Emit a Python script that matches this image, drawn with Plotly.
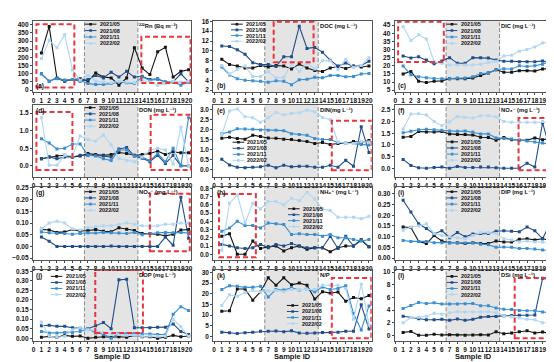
import plotly.graph_objects as go

sample_ids = list(range(1, 21))
series_names = ["2021/05", "2021/08", "2021/11", "2022/02"]
series_colors = ["#151515", "#1f4e8a", "#3a8fd2", "#b0d6f1"]
series_symbols = ["square", "square", "square", "square"]

# ---------------- data ----------------
rn_2105 = [228, 390, 72, 55, 65, 70, 55, 105, 80, 75, 30, 75, 260, 135, 95, 235, 262, 80, 115, 125]
rn_2108 = [100, 55, 75, 60, 65, 55, 65, 90, 75, 110, 80, 115, 80, 85, 65, 70, 50, 50, 100, 50]
rn_2111 = [100, 55, 70, 60, 65, 60, 40, 35, 35, 40, 50, 45, 40, 80, 60, 65, 50, 50, 30, 50]
rn_2202 = [193, 305, 260, 340, 125, 60, 90, 55, 50, 45, 55, 50, 45, 60, 50, 30, 40, 55, 50, 55]

doc_2105 = [8.3, 7.2, 6.9, 6.5, 6.5, 7.0, 6.7, 7.0, 6.9, 6.3, 7.3, 6.5, 6.0, 5.8, 6.5, 6.8, 6.4, 6.9, 6.7, 6.9]
doc_2108 = [11.0, 10.9, 10.2, 9.3, 7.6, 7.2, 7.2, 6.8, 8.8, 8.8, 15.0, 10.5, 10.7, 9.7, 8.1, 6.9, 7.5, 6.8, 7.0, 7.9]
doc_2111 = [6.7, 5.1, 4.3, 4.0, 3.9, 3.8, 3.6, 3.9, 3.8, 3.1, 4.1, 4.2, 4.6, 4.5, 5.0, 5.0, 4.7, 4.8, 5.3, 5.4]
doc_2202 = [7.0, 5.3, 6.2, 6.9, 4.8, 4.8, 5.8, 4.5, 4.6, 7.4, 5.8, 7.5, 6.3, 8.0, 8.0, 6.2, 8.3, 6.6, 7.0, 8.6]

dic_2105 = [15.0, 16.5, 10.5, 9.7, 10.5, 10.7, 12.0, 12.0, 12.0, 12.5, 14.0, 15.5, 17.5, 16.0, 16.0, 17.0, 17.0, 16.7, 18.0, 18.2]
dic_2108 = [26.0, 24.8, 25.5, 23.5, 21.2, 23.0, 25.0, 21.5, 21.5, 25.0, 25.0, 24.7, 23.5, 22.8, 22.7, 22.5, 22.5, 22.5, 23.0, 21.8]
dic_2111 = [19.8, 14.5, 13.2, 12.6, 12.2, 12.0, 12.0, 12.5, 12.5, 13.2, 15.2, 15.5, 17.5, 18.2, 18.0, 20.0, 19.5, 20.0, 21.0, 22.8]
dic_2202 = [44.0, 35.5, 39.0, 36.5, 22.5, 21.5, 20.5, 20.5, 20.5, 20.5, 21.0, 22.0, 22.7, 26.0, 26.5, 29.0, 30.0, 31.5, 34.0, 34.5]

don_2105 = [0.20, 0.25, 0.28, 0.30, 0.25, 0.28, 0.35, 0.32, 0.30, 0.32, 0.38, 0.35, 0.30, 0.32, 0.35, 0.42, 0.32, 0.40, 0.37, 0.37]
don_2108 = [0.20, 0.25, 0.20, 0.25, 0.25, 0.30, 0.30, 0.30, 0.28, 0.25, 0.48, 0.52, 0.28, 0.22, 0.12, 0.30, 0.07, 0.30, 0.00, 0.00]
don_2111 = [0.77, 0.65, 0.48, 0.50, 0.62, 0.62, 0.30, 0.28, 0.20, 0.15, 0.45, 0.45, 0.28, 0.25, 0.15, 0.35, 0.12, 0.50, 0.00, 1.37]
don_2202 = [1.37, 0.02, 0.02, 0.30, 0.28, 0.85, 0.75, 0.70, 0.88, 0.60, 0.20, 0.15, 0.12, 0.25, 0.45, 0.50, 0.45, 0.05, 1.10, 0.00]

din_2105 = [1.57, 1.62, 1.55, 1.52, 1.72, 1.65, 1.58, 1.57, 1.52, 1.50, 1.45, 1.40, 1.30, 1.35, 1.25, 1.30, 1.30, 1.40, 1.35, 1.45]
din_2108 = [0.50, 0.22, 0.10, 0.08, 0.10, 0.12, 0.20, 0.08, 0.20, 0.12, 0.15, 0.15, 0.10, 0.10, 0.20, 0.10, 0.45, 0.15, 2.15, 0.85]
din_2111 = [1.80, 1.88, 2.05, 2.03, 2.02, 1.98, 1.97, 1.97, 1.95, 1.80, 1.75, 1.72, 1.55, 1.50, 1.50, 1.35, 1.33, 1.30, 1.25, 1.22]
din_2202 = [1.75, 2.95, 3.05, 2.65, 2.60, 2.38, 2.60, 2.88, 2.75, 2.82, 2.85, 3.00, 2.90, 2.62, 2.50, 1.38, 1.30, 1.30, 1.40, 1.38]

no3_2105 = [1.33, 1.36, 1.57, 1.55, 1.55, 1.57, 1.47, 1.45, 1.45, 1.42, 1.33, 1.32, 1.20, 1.32, 1.22, 1.20, 1.20, 1.30, 1.22, 1.28]
no3_2108 = [0.38, 0.12, 0.02, 0.00, 0.03, 0.05, 0.00, 0.08, 0.03, 0.03, 0.05, 0.05, 0.02, 0.00, 0.00, 0.00, 0.22, 0.05, 1.95, 0.77]
no3_2111 = [1.52, 1.58, 1.65, 1.67, 1.65, 1.63, 1.60, 1.58, 1.60, 1.55, 1.47, 1.47, 1.30, 1.27, 1.25, 1.20, 1.17, 1.12, 1.08, 1.03]
no3_2202 = [1.68, 2.32, 2.33, 2.28, 2.00, 1.82, 1.98, 2.22, 2.18, 2.15, 2.25, 2.25, 2.20, 2.00, 1.97, 1.97, 1.97, 1.97, 2.00, 1.97]

no2_2105 = [0.073, 0.070, 0.060, 0.062, 0.072, 0.065, 0.068, 0.072, 0.065, 0.063, 0.080, 0.073, 0.068, 0.055, 0.055, 0.052, 0.045, 0.052, 0.070, 0.072]
no2_2108 = [0.040, 0.022, 0.000, 0.000, 0.000, 0.000, 0.000, 0.000, 0.000, 0.002, 0.000, 0.000, 0.000, 0.000, 0.000, 0.000, 0.040, 0.005, 0.210, 0.035]
no2_2111 = [0.062, 0.058, 0.055, 0.055, 0.052, 0.055, 0.058, 0.057, 0.060, 0.058, 0.057, 0.055, 0.060, 0.050, 0.055, 0.058, 0.060, 0.058, 0.060, 0.057]
no2_2202 = [0.075, 0.100, 0.108, 0.100, 0.075, 0.070, 0.080, 0.085, 0.088, 0.088, 0.095, 0.100, 0.095, 0.088, 0.087, 0.088, 0.095, 0.095, 0.100, 0.100]

nh4_2105 = [0.22, 0.25, 0.00, 0.00, 0.16, 0.07, 0.09, 0.10, 0.04, 0.08, 0.10, 0.06, 0.08, 0.08, 0.03, 0.08, 0.10, 0.10, 0.17, 0.09]
nh4_2108 = [0.12, 0.10, 0.08, 0.07, 0.08, 0.12, 0.08, 0.12, 0.10, 0.13, 0.10, 0.08, 0.08, 0.08, 0.22, 0.07, 0.22, 0.10, 0.18, 0.09]
nh4_2111 = [0.28, 0.32, 0.40, 0.35, 0.35, 0.32, 0.38, 0.37, 0.36, 0.24, 0.25, 0.24, 0.24, 0.22, 0.24, 0.20, 0.20, 0.18, 0.16, 0.18]
nh4_2202 = [0.05, 0.62, 0.72, 0.38, 0.62, 0.55, 0.64, 0.64, 0.60, 0.68, 0.65, 0.75, 0.67, 0.55, 0.53, 0.45, 0.45, 0.45, 0.43, 0.46]

dip_2105 = [0.145, 0.143, 0.078, 0.068, 0.105, 0.080, 0.072, 0.072, 0.068, 0.072, 0.068, 0.068, 0.080, 0.075, 0.075, 0.088, 0.090, 0.085, 0.090, 0.083]
dip_2108 = [0.270, 0.215, 0.160, 0.138, 0.113, 0.128, 0.095, 0.120, 0.100, 0.112, 0.115, 0.115, 0.125, 0.128, 0.125, 0.123, 0.145, 0.128, 0.090, 0.165]
dip_2111 = [0.082, 0.078, 0.078, 0.078, 0.072, 0.072, 0.072, 0.070, 0.070, 0.072, 0.065, 0.062, 0.050, 0.052, 0.050, 0.045, 0.045, 0.042, 0.038, 0.035]
dip_2202 = [0.130, 0.145, 0.150, 0.160, 0.115, 0.105, 0.100, 0.095, 0.090, 0.105, 0.120, 0.120, 0.115, 0.090, 0.085, 0.075, 0.080, 0.075, 0.075, 0.070]

dop_2105 = [0.005, 0.010, 0.005, 0.015, 0.010, 0.012, 0.000, 0.005, 0.008, 0.005, 0.008, 0.005, 0.015, 0.008, 0.008, 0.000, 0.005, 0.015, 0.008, 0.012]
dop_2108 = [0.065, 0.068, 0.062, 0.062, 0.055, 0.052, 0.050, 0.065, 0.082, 0.050, 0.305, 0.308, 0.055, 0.055, 0.055, 0.058, 0.058, 0.075, 0.035, 0.020]
dop_2111 = [0.035, 0.028, 0.028, 0.030, 0.030, 0.035, 0.050, 0.028, 0.022, 0.000, 0.025, 0.025, 0.025, 0.025, 0.022, 0.020, 0.018, 0.125, 0.165, 0.145]
dop_2202 = [0.085, 0.010, 0.005, 0.010, 0.045, 0.055, 0.045, 0.040, 0.030, 0.020, 0.020, 0.015, 0.015, 0.010, 0.012, 0.010, 0.010, 0.100, 0.060, 0.010]

np_2105 = [11.8, 12.0, 22.2, 22.2, 17.0, 21.0, 27.5, 24.0, 27.5, 24.2, 25.0, 24.0, 17.5, 21.0, 20.3, 20.8, 16.5, 18.2, 17.7, 19.2]
np_2108 = [2.0, 1.7, 1.4, 1.7, 2.0, 2.4, 2.4, 2.5, 2.2, 2.6, 1.6, 1.5, 1.6, 1.8, 1.8, 2.0, 2.4, 2.4, 14.8, 3.5]
np_2111 = [22.0, 23.8, 23.5, 23.0, 23.0, 23.5, 18.5, 22.0, 21.8, 22.8, 21.8, 22.2, 21.0, 23.2, 22.0, 22.5, 23.8, 10.8, 3.0, 14.3]
np_2202 = [14.5, 19.5, 18.8, 20.5, 21.5, 21.0, 21.3, 21.5, 21.0, 22.0, 22.0, 22.0, 22.0, 24.0, 24.0, 24.0, 22.5, 8.0, 24.5, 5.5]

dsi_2105 = [0.50, 0.65, 0.05, 0.05, 0.20, 0.10, 0.15, 0.10, 0.05, 0.10, 0.15, 0.10, 0.60, 0.30, 0.40, 0.60, 0.75, 0.40, 0.55, 0.35]
dsi_2108 = [3.05, 2.85, 2.65, 2.50, 2.50, 2.55, 2.40, 2.60, 2.40, 2.55, 2.90, 3.00, 3.00, 3.10, 3.15, 3.20, 3.20, 3.25, 9.00, 8.80]
dsi_2111 = [4.25, 4.75, 5.20, 5.05, 5.15, 4.95, 4.95, 4.95, 5.00, 5.05, 4.70, 4.70, 4.35, 4.15, 4.10, 3.95, 3.90, 3.90, 3.70, 3.55]
dsi_2202 = [2.00, 2.85, 2.90, 3.05, 3.50, 3.35, 3.60, 3.75, 3.70, 3.70, 3.70, 3.75, 3.60, 3.10, 2.95, 2.75, 2.55, 2.50, 2.00, 2.05]

panel_titles = [
    "²²²Rn (Bq m⁻³)", "DOC (mg L⁻¹)", "DIC (mg L⁻¹)",
    "DON (mg L⁻¹)", "DIN(mg L⁻¹)", "NO₃⁻ (mg L⁻¹)",
    "NO₂⁻ (mg L⁻¹)", "NH₄⁺ (mg L⁻¹)", "DIP (mg L⁻¹)",
    "DOP (mg L⁻¹)", "N/P", "DSi (mg L⁻¹)",
]
panel_letters = ["(a)", "(b)", "(c)", "(d)", "(e)", "(f)", "(g)", "(h)", "(i)", "(j)", "(k)", "(l)"]
panel_series = [
    [rn_2105, rn_2108, rn_2111, rn_2202],
    [doc_2105, doc_2108, doc_2111, doc_2202],
    [dic_2105, dic_2108, dic_2111, dic_2202],
    [don_2105, don_2108, don_2111, don_2202],
    [din_2105, din_2108, din_2111, din_2202],
    [no3_2105, no3_2108, no3_2111, no3_2202],
    [no2_2105, no2_2108, no2_2111, no2_2202],
    [nh4_2105, nh4_2108, nh4_2111, nh4_2202],
    [dip_2105, dip_2108, dip_2111, dip_2202],
    [dop_2105, dop_2108, dop_2111, dop_2202],
    [np_2105, np_2108, np_2111, np_2202],
    [dsi_2105, dsi_2108, dsi_2111, dsi_2202],
]

# ---------------- styling / layout ----------------
y_ranges = [[-12, 424], [1.6, 16.1], [3.8, 47.6], [-0.32, 1.73], [-0.4, 3.25], [-0.38, 2.71],
            [-0.059, 0.254], [-0.072, 0.816], [-0.01, 0.332], [-0.016, 0.356], [-2.3, 31.1], [-0.9, 10.3]]
y_ticks = [
    [0, 50, 100, 150, 200, 250, 300, 350, 400],
    [2, 4, 6, 8, 10, 12, 14, 16],
    [5, 10, 15, 20, 25, 30, 35, 40, 45],
    [0.0, 0.5, 1.0, 1.5],
    [0.0, 0.5, 1.0, 1.5, 2.0, 2.5, 3.0],
    [0.0, 0.5, 1.0, 1.5, 2.0, 2.5],
    [-0.05, 0.0, 0.05, 0.10, 0.15, 0.20, 0.25],
    [0.0, 0.1, 0.2, 0.3, 0.4, 0.5, 0.6, 0.7, 0.8],
    [0.0, 0.05, 0.10, 0.15, 0.20, 0.25, 0.30],
    [0.0, 0.05, 0.10, 0.15, 0.20, 0.25, 0.30, 0.35],
    [0, 5, 10, 15, 20, 25, 30],
    [0, 2, 4, 6, 8, 10],
]
y_formats = ["d", "d", "d", ".1f", ".1f", ".1f", ".2f", ".1f", ".2f", ".2f", "d", "d"]
red_boxes = [
    [(0.35, 5.25, 16, 404), (13.9, 20.25, 44, 327)],
    [(7.7, 12.85, 7.67, 15.9)],
    [(0.35, 6.25, 22.3, 47.0)],
    [(0.35, 5.0, -0.12, 1.53), (15.1, 20.3, -0.12, 1.45)],
    [(15.2, 20.35, -0.05, 2.45)],
    [(15.9, 20.4, -0.08, 2.15)],
    [(15.0, 20.15, -0.021, 0.225)],
    [(0.64, 5.4, -0.036, 0.73)],
    [],
    [(7.95, 14.1, 0.028, 0.356)],
    [(15.2, 20.3, -0.9, 27.4)],
    [(15.4, 20.3, -0.4, 9.07)],
]
# legend: (line x start, line x end, y-domain of first item, spacing)
legend_pos = [
    (6.6, 8.1, 0.954, 0.09), (2.2, 3.7, 0.954, 0.08), (6.6, 8.0, 0.954, 0.09),
    (6.6, 8.0, 0.963, 0.086), (2.4, 3.9, 0.484, 0.084), (6.55, 8.1, 0.489, 0.085),
    (6.6, 8.05, 0.936, 0.085), (9.55, 11.05, 0.703, 0.081), (6.6, 8.0, 0.936, 0.085),
    (2.2, 3.7, 0.912, 0.085), (9.4, 10.9, 0.504, 0.085), (6.55, 8.05, 0.912, 0.085),
]
letter_bottom = [True, True, True] + [False] * 9

W, H = 554, 362
col_px = [(24, 183), (205, 364), (387, 546)]
row_px = [(10, 82), (95, 168), (178, 252), (262, 334)]

font_family = "Liberation Sans, Arial, DejaVu Sans, sans-serif"
red = "#e8353f"

fig = go.Figure()
layout = dict(
    width=W, height=H, margin=dict(l=0, r=0, t=0, b=0),
    paper_bgcolor="white", plot_bgcolor="white", showlegend=False,
    font=dict(family=font_family, size=7, color="#111"),
)
shapes = []
annotations = []

for i in range(12):
    r, c = divmod(i, 3)
    sfx = "" if i == 0 else str(i + 1)
    xa, ya = "x" + sfx, "y" + sfx
    x0p, x1p = col_px[c]
    y0p, y1p = row_px[r]
    layout["xaxis" + sfx] = dict(
        domain=[x0p / W, x1p / W], anchor=ya, range=[-0.1, 20.35],
        tickmode="array", tickvals=list(range(0, 21)), ticktext=[str(v) for v in range(0, 21)],
        tickangle=0, ticks="outside", ticklen=2, ticklabeloverflow="allow",
        tickcolor="#444", showline=True, linecolor="#555", linewidth=1, mirror=True,
        showgrid=False, zeroline=False,
        tickfont=dict(family=font_family, size=6.5, color="#111", weight="bold"),
    )
    layout["yaxis" + sfx] = dict(
        domain=[1 - y1p / H, 1 - y0p / H], anchor=xa, range=y_ranges[i],
        tickmode="array", tickvals=y_ticks[i], tickformat=y_formats[i],
        ticks="outside", ticklen=2, tickcolor="#444", ticklabeloverflow="allow",
        showline=True, linecolor="#555", linewidth=1, mirror=True,
        showgrid=False, zeroline=False,
        tickfont=dict(family=font_family, size=6.5, color="#111", weight="bold"),
    )
    ydom = ya + " domain"
    # shaded zone
    shapes.append(dict(type="rect", xref=xa, yref=ydom, x0=6.55, x1=13.45, y0=0, y1=1,
                       fillcolor="#e4e4e4", line=dict(width=0), layer="below"))
    for xv in (6.55, 13.45):
        shapes.append(dict(type="line", xref=xa, yref=ydom, x0=xv, x1=xv, y0=0, y1=1,
                           line=dict(color="#8a8a8a", width=1, dash="4px,2px"), layer="below"))
    # series
    for k in range(4):
        fig.add_trace(go.Scatter(
            x=sample_ids, y=panel_series[i][k], xaxis=xa, yaxis=ya, mode="lines+markers",
            name=series_names[k],
            line=dict(color=series_colors[k], width=1.1),
            marker=dict(symbol=series_symbols[k], size=3, color=series_colors[k]),
            cliponaxis=True,
        ))
    # red boxes
    for (bx0, bx1, by0, by1) in red_boxes[i]:
        shapes.append(dict(type="rect", xref=xa, yref=ya, x0=bx0, x1=bx1, y0=by0, y1=by1,
                           line=dict(color=red, width=2, dash="5px,3px"), fillcolor="rgba(0,0,0,0)"))
    # legend (drawn)
    lx0, lx1, ly, dy = legend_pos[i]
    for k in range(4):
        yy = ly - k * dy
        shapes.append(dict(type="line", xref=xa, yref=ydom, x0=lx0, x1=lx1, y0=yy, y1=yy,
                           line=dict(color=series_colors[k], width=1)))
        xm = (lx0 + lx1) / 2
        shapes.append(dict(type="rect", xref=xa, yref=ydom, x0=xm - 0.17, x1=xm + 0.17,
                           y0=yy - 0.018, y1=yy + 0.018, fillcolor=series_colors[k],
                           line=dict(width=0)))
        annotations.append(dict(xref=xa, yref=ydom, x=lx1 + 0.15, y=yy, text=series_names[k],
                                showarrow=False, xanchor="left", yanchor="middle",
                                font=dict(family=font_family, size=5.5, color="#111", weight="bold")))
    # title
    annotations.append(dict(xref=xa, yref=ydom, x=13.5, y=0.99, text=panel_titles[i],
                            showarrow=False, xanchor="left", yanchor="top", borderpad=0,
                            font=dict(family=font_family, size=5.8, color="#111", weight="bold")))
    # letter
    if letter_bottom[i]:
        annotations.append(dict(xref=xa + " domain", yref=ydom, x=0.01, y=0.0, text=panel_letters[i],
                                showarrow=False, xanchor="left", yanchor="bottom",
                                font=dict(family=font_family, size=6.5, color="#111", weight="bold")))
    else:
        annotations.append(dict(xref=xa + " domain", yref=ydom, x=0.01, y=1.0, text=panel_letters[i],
                                showarrow=False, xanchor="left", yanchor="top",
                                font=dict(family=font_family, size=6.5, color="#111", weight="bold")))
    if r == 3:
        annotations.append(dict(xref="paper", yref="paper", x=(x0p + x1p) / 2 / W, y=1 - 349 / H,
                                text="Sample ID", showarrow=False, xanchor="center", yanchor="middle",
                                font=dict(family=font_family, size=7.5, color="#111", weight="bold")))

layout["shapes"] = shapes
layout["annotations"] = annotations
fig.update_layout(**layout)
fig.write_html("out.html")
